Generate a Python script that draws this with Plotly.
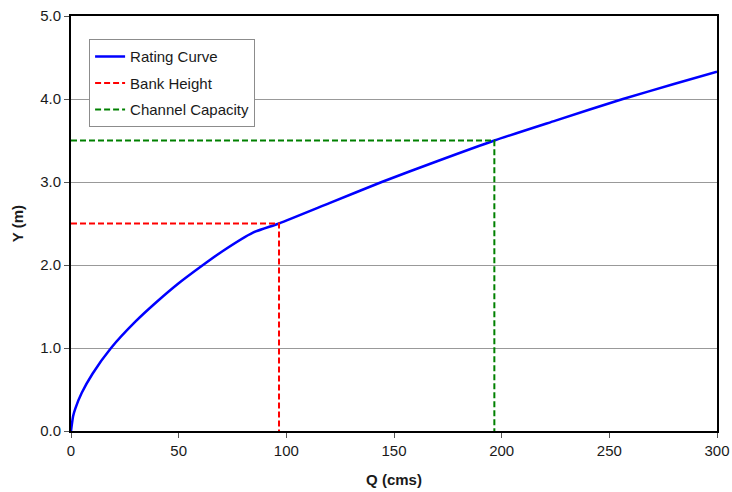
import plotly.graph_objects as go

# Rating curve
q_rating = [0, 1, 2, 5, 10, 18.6, 30, 40, 50, 61.3, 70, 84.5, 96.6, 120, 144.3, 170, 196.6, 225, 256.3, 280, 300]
y_rating = [0, 0.18, 0.27, 0.46, 0.69, 1.0, 1.32, 1.56, 1.78, 2.0, 2.16, 2.39, 2.5, 2.745, 3.0, 3.25, 3.5, 3.74, 4.0, 4.18, 4.33]

# Bank height guide
q_bank = [0, 96.6, 96.6]
y_bank = [2.5, 2.5, 0]

# Channel capacity guide
q_cap = [0, 196.6, 196.6]
y_cap = [3.5, 3.5, 0]

x_ticks = [0, 50, 100, 150, 200, 250, 300]
y_ticks = [0, 1, 2, 3, 4, 5]
y_tick_text = ["0.0", "1.0", "2.0", "3.0", "4.0", "5.0"]

fig = go.Figure()
fig.add_trace(go.Scatter(x=q_rating, y=y_rating, mode="lines", name="Rating Curve",
                         legendgroup="a",
                         line=dict(color="#0000FF", width=2.5, shape="spline", smoothing=0.6)))
fig.add_trace(go.Scatter(x=q_bank, y=y_bank, mode="lines", name="Bank Height",
                         legendgroup="b",
                         line=dict(color="#FF0000", width=2, dash="6px,3px")))
fig.add_trace(go.Scatter(x=q_cap, y=y_cap, mode="lines", name="Channel Capacity",
                         legendgroup="c",
                         line=dict(color="#008000", width=2, dash="6px,3px")))

fig.update_layout(
    width=732, height=492,
    margin=dict(l=71, r=15, t=16, b=61),
    paper_bgcolor="white", plot_bgcolor="white",
    font=dict(family="Liberation Sans, Arial, sans-serif", size=15, color="#1a1a1a"),
    showlegend=True,
    legend=dict(x=0.028, y=0.944, xanchor="left", yanchor="top",
                bgcolor="white", bordercolor="#8c8c8c", borderwidth=1,
                font=dict(size=15, color="#1a1a1a"),
                traceorder="grouped", tracegroupgap=4),
    xaxis=dict(range=[0, 300], tickvals=x_ticks, ticks="outside", ticklen=5,
               tickcolor="#555555", showgrid=False, zeroline=False, automargin=False,
               ticklabeloverflow="allow",
               showline=True, linecolor="black", linewidth=2, mirror=True,
               title=dict(text="<b>Q (cms)</b>", standoff=16, font=dict(size=15))),
    yaxis=dict(range=[0, 5], tickvals=y_ticks, ticktext=y_tick_text, ticks="outside",
               ticklen=5, tickcolor="#555555", showgrid=True, gridcolor="#999999",
               gridwidth=1, zeroline=False, automargin=False,
               ticklabeloverflow="allow",
               showline=True, linecolor="black", linewidth=2, mirror=True,
               title=dict(text="<b>Y (m)</b>", standoff=13, font=dict(size=15))),
)

fig.write_html("out.html", config={"displayModeBar": False},
               post_script="document.body.style.margin='0px';document.body.style.overflow='hidden';")
